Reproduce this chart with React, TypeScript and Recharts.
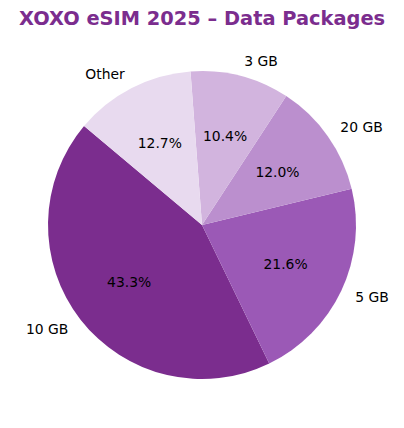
import React from 'react';
import { PieChart, Pie, Cell } from 'recharts';

const packages = ['10 GB', '5 GB', '20 GB', '3 GB', 'Other'];
const shares = [43.3, 21.6, 12.0, 10.4, 12.7];
const colors = ['#7B2D8E', '#9B59B6', '#BB8FCE', '#D2B4DE', '#E8DAEF'];

const data = packages.map((name, i) => ({ name, value: shares[i] }));

const RADIAN = Math.PI / 180;
const FONT = '"DejaVu Sans", sans-serif';

const renderLabel = (props: any) => {
  const { cx, cy, midAngle, outerRadius, percent, name } = props;
  const cos = Math.cos(midAngle * RADIAN);
  const sin = Math.sin(midAngle * RADIAN);
  const nx = cx + outerRadius * 1.1 * cos;
  const ny = cy - outerRadius * 1.1 * sin;
  const px = cx + outerRadius * 0.6 * cos;
  const py = cy - outerRadius * 0.6 * sin;
  return (
    <g>
      <text
        x={nx}
        y={ny}
        textAnchor={cos >= 0 ? 'start' : 'end'}
        dominantBaseline="central"
        fontFamily={FONT}
        fontSize={13.9}
        fill="#000"
      >
        {name}
      </text>
      <text
        x={px}
        y={py}
        textAnchor="middle"
        dominantBaseline="central"
        fontFamily={FONT}
        fontSize={13.9}
        fill="#000"
      >
        {(percent * 100).toFixed(1)}%
      </text>
    </g>
  );
};

export default function App() {
  return (
    <div style={{ position: 'absolute', left: 0, top: 0, width: 404, height: 428, background: '#fff' }}>
      <div
        style={{
          position: 'absolute',
          left: 0,
          top: 6,
          width: 404,
          textAlign: 'center',
          fontFamily: FONT,
          fontWeight: 'bold',
          fontSize: 19.4,
          color: '#7B2D8E',
          lineHeight: '26px',
        }}
      >
        XOXO eSIM 2025 – Data Packages
      </div>
      <PieChart
        width={404}
        height={428}
        margin={{ top: 0, right: 0, bottom: 0, left: 0 }}
        style={{ position: 'absolute', left: 0, top: 0 }}
      >
        <Pie
          data={data}
          dataKey="value"
          nameKey="name"
          cx={202}
          cy={225}
          innerRadius={0}
          outerRadius={154}
          startAngle={140}
          endAngle={500}
          stroke="none"
          label={renderLabel}
          labelLine={false}
          isAnimationActive={false}
        >
          {data.map((d, i) => (
            <Cell key={d.name} fill={colors[i]} />
          ))}
        </Pie>
      </PieChart>
    </div>
  );
}
